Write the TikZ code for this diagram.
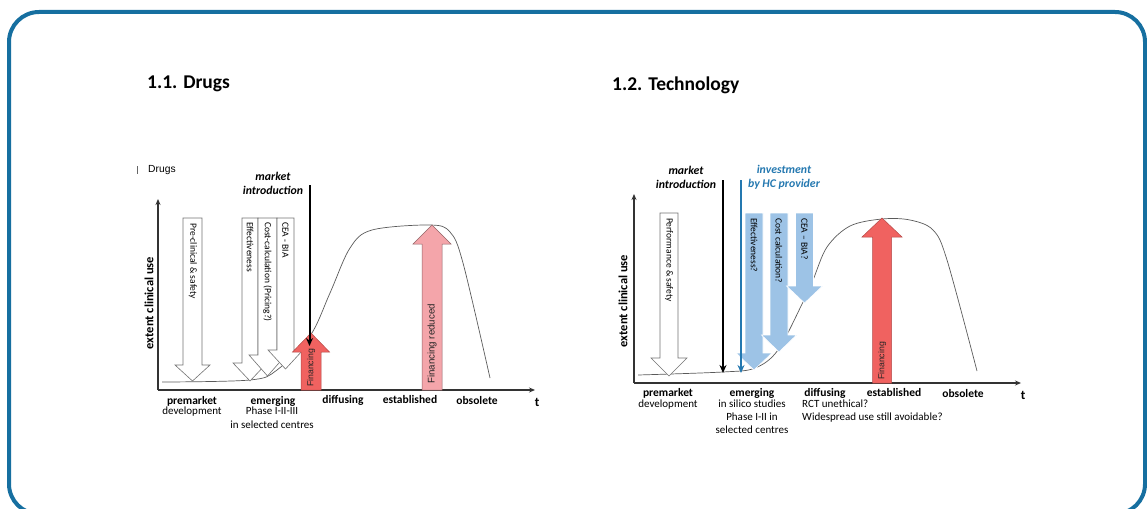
\documentclass[tikz,border=0pt]{standalone}
\usepackage{fontspec}
\setmainfont{Carlito}
\newfontfamily\arialf{Liberation Sans}
\usetikzlibrary{arrows.meta}
\definecolor{frameblue}{RGB}{22,111,160}
\definecolor{finred}{RGB}{240,98,96}
\definecolor{finpink}{RGB}{244,165,170}
\definecolor{lblue}{RGB}{157,195,230}
\definecolor{invblue}{RGB}{36,120,176}
\definecolor{curvegray}{RGB}{90,90,90}
% #1 style, #2 centre x, #3 half shaft, #4 half head, #5 tail y, #6 head base y, #7 tip y
\newcommand{\blockarr}[7][]{\draw[#1] ({#2-#3},#5) -- ({#2+#3},#5) -- ({#2+#3},#6) -- ({#2+#4},#6) -- (#2,#7) -- ({#2-#4},#6) -- ({#2-#3},#6) -- cycle;}
\tikzset{
  whitearr/.style={fill=white,draw=black!55,line width=0.6pt},
  bluearr/.style={fill=lblue,draw=white,line width=0.6pt},
  redarr/.style={fill=finred,draw=finred!75!black,line width=0.5pt},
  pinkarr/.style={fill=finpink,draw=finpink!60!black,line width=0.5pt},
  axisline/.style={draw=black!80,line width=1.3pt,-{Stealth[length=6pt,width=5pt]}},
  curveline/.style={draw=curvegray,line width=0.7pt},
  intext/.style={font=\fontsize{9.5}{11}\selectfont,rotate=-90,anchor=west,inner sep=0pt},
  fintext/.style={font=\arialf\fontsize{8.7}{10}\selectfont,text=black!85,rotate=90,anchor=west,inner sep=0pt},
  phase/.style={font=\bfseries\fontsize{11.5}{13}\selectfont,inner sep=0pt},
  sub/.style={font=\fontsize{11}{13.3}\selectfont,inner sep=0pt,align=center,anchor=north},
  ylab/.style={font=\bfseries\fontsize{12.5}{14}\selectfont,rotate=90,inner sep=0pt},
  title/.style={font=\bfseries\fontsize{19.5}{22}\selectfont,anchor=west,inner sep=0pt},
  mktext/.style={font=\bfseries\itshape\fontsize{11.8}{14}\selectfont,align=center,inner sep=0pt},
  mkarrow/.style={draw=black,line width=2pt,-{Stealth[length=8pt,width=7pt]}},
}
\begin{document}
\begin{tikzpicture}[x=1pt,y=-1pt]
\useasboundingbox (0,0) rectangle (1147,508);
\begin{scope}
\clip (0,0) rectangle (1147,508);
\draw[frameblue,line width=4pt,rounded corners=30pt] (9,12) rectangle (1145,514);
\end{scope}

% ---------------- titles
\node[title] (t1) at (147,84) {1.1. Drugs};
\node[title] (t2) at (612,85) {1.2. Technology};

% ================= LEFT PANEL (Drugs)
\node[font=\arialf\fontsize{10.3}{12}\selectfont,anchor=west,inner sep=0pt] (dl) at (148,170) {Drugs};
\draw[black!60,line width=0.8pt] (137.5,166) -- (137.5,174);

\coordinate (lo) at (158,390);
\coordinate (ly) at (158,199);
\coordinate (lx) at (535,390);
\draw[curveline] plot[smooth,tension=0.55] coordinates {(162,382) (250,380) (277,370) (310,336) (330,293) (350,248) (372,230) (430,225) (450,232) (463,263) (490,378)};
\draw[axisline] (lo) -- (ly);
\draw[axisline] (lo) -- (lx);
\node[ylab] (ly1) at (149,303) {extent clinical use};

\blockarr[whitearr]{192.5}{9.5}{17.5}{218}{365}{381}
\node[intext] (a1) at (193,223) {Pre-clinical \& safety};
\blockarr[whitearr]{250}{8}{17}{218}{363}{381}
\node[intext] (a2) at (250,222) {Effectiveness};
\blockarr[whitearr]{267.5}{9.5}{18.5}{218}{355}{376}
\node[intext] (a3) at (267.5,222) {Cost-calculation (Pricing?)};
\blockarr[whitearr]{285.5}{8.5}{17.5}{218}{350}{369}
\node[intext] (a4) at (285.5,222) {CEA - BIA};

\blockarr[redarr]{311}{10}{18.5}{390}{352}{333}
\node[fintext] (f1) at (311,387) {Financing};
\blockarr[pinkarr]{432}{10}{19}{390}{244}{225}
\node[fintext,font=\arialf\fontsize{9.7}{11}\selectfont] (f2) at (432,384) {Financing reduced};

\node[mktext] (mk1) at (273,183.5) {market\\introduction};
\coordinate (m1a) at (309.5,185);
\coordinate (m1b) at (309.5,346);
\draw[mkarrow] (m1a) -- (m1b);

\node[phase] (p1) at (192,401) {premarket};
\node[sub] (s1) at (192,407) {development};
\node[phase] (p2) at (273,401) {emerging};
\node[sub] (s2) at (272,407) {Phase I-II-III\\in selected centres};
\node[phase] (p3) at (343,400) {diffusing};
\node[phase] (p4) at (410,400) {established};
\node[phase] (p5) at (477,400.5) {obsolete};
\node[phase,font=\bfseries\fontsize{13}{14}\selectfont] (p6) at (537,402) {t};

% ================= RIGHT PANEL (Technology)
\coordinate (ro) at (634,383);
\coordinate (ry) at (634,194);
\coordinate (rx) at (1021,383);
\draw[curveline] plot[smooth,tension=0.55] coordinates {(638,375) (723,372) (755,368) (778,350) (803,302) (813,280) (827,247) (850,226) (882,219) (910,220) (933,230) (947,260) (977,371)};
\draw[axisline] (ro) -- (ry);
\draw[axisline] (ro) -- (rx);
\node[ylab] (ry1) at (623,301) {extent clinical use};

\blockarr[whitearr]{669}{9}{18}{213}{358}{376}
\node[intext] (b1) at (669,218) {Performance \& safety};

\blockarr[bluearr]{754}{9}{18}{213}{353}{370}
\node[intext] (b2) at (754,218) {Effectiveness?};
\blockarr[bluearr]{779}{9}{17.5}{213}{335}{352}
\node[intext] (b3) at (779,218) {Cost calculation?};
\blockarr[bluearr]{804.5}{9}{18}{213}{286}{303}
\node[intext] (b4) at (804.5,218) {CEA – BIA?};

\blockarr[redarr]{882}{9.5}{20}{383}{237}{218}
\node[fintext] (f3) at (882,380) {Financing};

\node[mktext] (mk2) at (686,177.5) {market\\introduction};
\coordinate (m2a) at (723,180);
\coordinate (m2b) at (723,373);
\draw[mkarrow] (m2a) -- (m2b);

\node[mktext,text=invblue] (inv) at (784,177.5) {investment\\by HC provider};
\coordinate (i2a) at (741,180);
\coordinate (i2b) at (741,373);
\draw[mkarrow,draw=invblue,line width=1.6pt] (i2a) -- (i2b);

\node[phase] (q1) at (668,393) {premarket};
\node[sub] (r1) at (668,399.5) {development};
\node[phase] (q2) at (752,393) {emerging};
\node[sub] (r2) at (752,399.5) {in silico studies\\Phase I-II in\\selected centres};
\node[phase] (q3) at (825,393) {diffusing};
\node[sub,anchor=north west,align=left] (r3) at (802,399.5) {RCT unethical?\\Widespread use still avoidable?};
\node[phase] (q4) at (894,393) {established};
\node[phase] (q5) at (963,394) {obsolete};
\node[phase,font=\bfseries\fontsize{13}{14}\selectfont] (q6) at (1023,395) {t};
\end{tikzpicture}
\end{document}
